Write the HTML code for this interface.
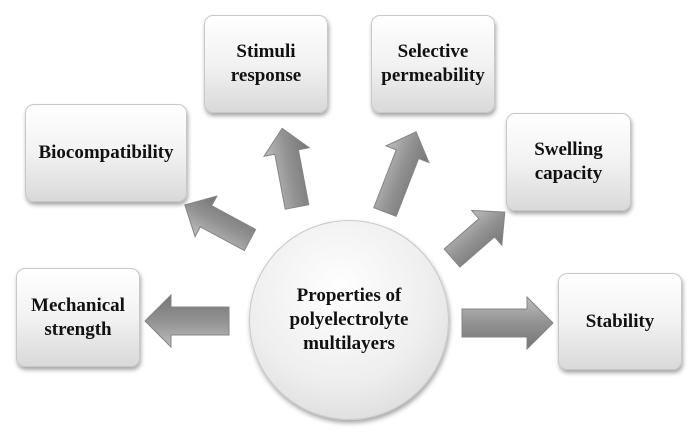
<!DOCTYPE html>
<html><head><style>
body{margin:0;width:696px;height:441px;background:#fff;overflow:hidden;position:relative;font-family:"Liberation Serif",serif;}
.b{position:absolute;box-sizing:border-box;border-radius:9px;background:linear-gradient(#ffffff,#f2f2f2 50%,#d9d9d9);border:1px solid #c8c8c8;box-shadow:1px 3px 4px rgba(0,0,0,0.35);display:flex;align-items:center;justify-content:center;text-align:center;font-weight:bold;font-size:19px;line-height:24px;color:#111;}
.c{position:absolute;left:249px;top:220px;width:198px;height:198px;border-radius:50%;background:radial-gradient(circle at 45% 35%,#ffffff,#eeeeee 55%,#d2d2d2);border:1px solid #c8c8c8;box-shadow:1px 3px 5px rgba(0,0,0,0.35);display:flex;align-items:center;justify-content:center;text-align:center;font-weight:bold;font-size:19px;line-height:24px;color:#111;}
svg{position:absolute;left:0;top:0;}
</style></head><body>
<svg width="696" height="441">
<defs><linearGradient id="g" x1="0" y1="0" x2="0" y2="1"><stop offset="0" stop-color="#bdbdbd"/><stop offset="0.5" stop-color="#929292"/><stop offset="1" stop-color="#757575"/></linearGradient></defs>
<g fill="url(#g)" stroke="#858585" stroke-width="1">
<g transform="translate(229,321) rotate(180)"><polygon points="0,-14 58,-14 58,-26 84,0 58,26 58,14 0,14"/></g>
<g transform="translate(462,323)"><polygon points="0,-14 65,-14 65,-26 91,0 65,26 65,14 0,14"/></g>
<g transform="translate(250,240) rotate(-151.7)"><polygon points="0,-12 50,-12 50,-23 74,0 50,23 50,12 0,12"/></g>
<g transform="translate(297,207) rotate(-100.7)"><polygon points="0,-12 56,-12 56,-23 80,0 56,23 56,12 0,12"/></g>
<g transform="translate(385,212) rotate(-68.8)"><polygon points="0,-12 62,-12 62,-23 86,0 62,23 62,12 0,12"/></g>
<g transform="translate(452,258) rotate(-41)"><polygon points="0,-12 46,-12 46,-23 70,0 46,23 46,12 0,12"/></g>
</g></svg>
<div class="b" style="left:204px;top:15px;width:124px;height:98px;">Stimuli<br>response</div>
<div class="b" style="left:25px;top:104px;width:162px;height:98px;">Biocompatibility</div>
<div class="b" style="left:16px;top:268px;width:124px;height:99px;">Mechanical<br>strength</div>
<div class="b" style="left:371px;top:15px;width:124px;height:98px;">Selective<br>permeability</div>
<div class="b" style="left:506px;top:113px;width:125px;height:98px;">Swelling<br>capacity</div>
<div class="b" style="left:558px;top:273px;width:124px;height:97px;">Stability</div>
<div class="c">Properties of<br>polyelectrolyte<br>multilayers</div>
</body></html>
